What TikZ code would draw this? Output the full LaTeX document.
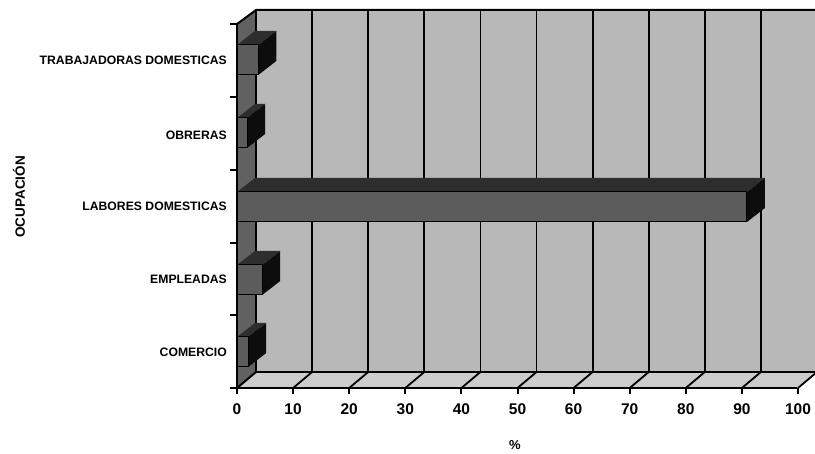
\documentclass[tikz,border=0pt]{standalone}
\usepackage{fontspec}
\setmainfont{Liberation Sans}
\definecolor{wallc}{gray}{0.72}
\definecolor{floorc}{gray}{0.80}
\definecolor{sidec}{gray}{0.38}
\definecolor{barfront}{gray}{0.36}
\definecolor{bartop}{gray}{0.18}
\definecolor{barside}{gray}{0.05}
\newcommand{\hbarX}[2]{%
  \pgfmathsetmacro{\xr}{237+5.61*#2}
  \fill[barfront] (237,#1-15) rectangle (\xr,#1+15);
  \fill[bartop] (237,#1-15) -- (\xr,#1-15) -- (\xr+18,#1-29) -- (255,#1-29) -- cycle;
  \fill[barside] (\xr,#1-15) -- (\xr+18,#1-29) -- (\xr+18,#1+1) -- (\xr,#1+15) -- cycle;
  \draw[line width=1pt] (237,#1-15) rectangle (\xr,#1+15);
}
\begin{document}
\begin{tikzpicture}[x=1pt,y=-1pt,
  catlbl/.style={anchor=east,font=\fontsize{12.2}{14}\selectfont\bfseries,inner sep=0pt},
  ticklbl/.style={anchor=center,font=\fontsize{15.5}{18}\selectfont\bfseries,inner sep=0pt},
  axline/.style={line width=2pt},
  gridline/.style={line width=1.8pt}]
\useasboundingbox (0,0) rectangle (815,454);
% back wall
\fill[wallc] (256,10) rectangle (815,372);
% floor
\fill[floorc] (237,388) -- (797,388) -- (816,372) -- (256,372) -- cycle;
% side wall
\fill[sidec] (237,24) -- (256,10) -- (256,372) -- (237,388) -- cycle;
% grid lines on back wall and floor
\foreach \i in {1,...,9}{
  \draw[gridline] ({256+56.1*\i},10) -- ({256+56.1*\i},372);
}
\foreach \i in {1,...,10}{
  \draw[gridline] ({237+56.1*\i},388) -- ({256+56.1*\i},372);
}
% wall outlines
\draw[axline] (237,24) -- (256,10) -- (815,10);
\draw[axline] (256,10) -- (256,372) -- (815,372);
\draw[axline] (237,388) -- (256,372);
% bars
\hbarX{60}{3.8}
\hbarX{133}{1.8}
\hbarX{207}{90.9}
\hbarX{280}{4.5}
\hbarX{352}{2}
% axes
\draw[axline] (237,24) -- (237,388) -- (797,388);
\foreach \y in {24,97,170,243,315,388}{
  \draw[axline] (230,\y) -- (237,\y);
}
\foreach \i in {0,...,10}{
  \draw[axline] ({237+56.1*\i},388) -- ({237+56.1*\i},394);
  \node[ticklbl] (t\i) at ({237+56.1*\i},409) {\the\numexpr\i*10\relax};
}
% category labels
\node[catlbl] (c1) at (227,60) {TRABAJADORAS DOMESTICAS};
\node[catlbl] (c2) at (227,135) {OBRERAS};
\node[catlbl] (c3) at (227,206) {LABORES DOMESTICAS};
\node[catlbl] (c4) at (227,279) {EMPLEADAS};
\node[catlbl] (c5) at (227,352) {COMERCIO};
% axis titles
\node[rotate=90,font=\fontsize{13.5}{16}\selectfont\bfseries,inner sep=0pt] (yt) at (19,197) {OCUPACIÓN};
\node[font=\fontsize{13}{15}\selectfont\bfseries,inner sep=0pt] (xt) at (515,445) {\%};
\end{tikzpicture}
\end{document}
